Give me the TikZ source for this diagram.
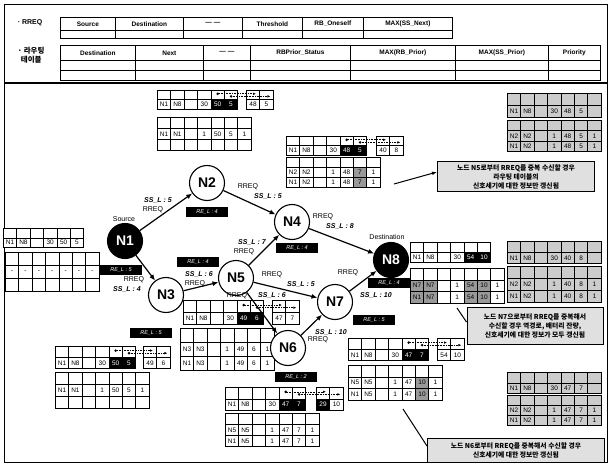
\documentclass[tikz,border=0pt]{standalone}
\usepackage{fontspec}
\setmainfont{Liberation Sans}
\newfontfamily\krfont{Noto Sans CJK KR}
\usetikzlibrary{arrows.meta}

\newcommand{\cellrow}[5]{%
  \foreach \cst/\ctx [count=\ci] in {#5}
    \node[cell, \cst, minimum height=#4] (#1-\ci) at ({#2+(\ci-1)*13.4}, #3) {\ctx};
}
\newcommand{\blankrow}[6][wht]{%
  \foreach \ci in {1,...,#6}
    \node[cell, #1, minimum height=#5] (#2-\ci) at ({#3+(\ci-1)*13.4}, #4) {};
}
\newcommand{\dotlinks}[2]{%
  \fill ([yshift=1.3pt]#1-5.center) circle (1.4);
  \fill ([yshift=-1.3pt]#1-6.center) circle (1.4);
  \draw[ptr] ([yshift=1.3pt]#1-5.center) -- ([xshift=3pt,yshift=1.3pt]#2-1.center);
  \draw[ptr] ([yshift=-1.3pt]#1-6.center) -- ([xshift=4pt,yshift=-1.3pt]#2-2.center);
}

\begin{document}
\begin{tikzpicture}[x=1pt, y=-1pt,
    cell/.style={draw, line width=0.7pt, anchor=north west, minimum width=13.4, inner sep=0pt, font=\fontsize{6.5}{7}\selectfont},
    wht/.style={fill=white},
    blk/.style={fill=black, text=white},
    shd/.style={fill=black!40},
    dot/.style={fill=black!20},
    hcell/.style={draw, line width=0.7pt, anchor=north west, inner sep=0pt, font=\fontsize{6.5}{7}\selectfont\bfseries},
    nd/.style={circle, draw, line width=1.1pt, fill=white, minimum size=35, inner sep=0pt, font=\fontsize{14}{14}\selectfont\bfseries},
    ndk/.style={nd, fill=black, text=white},
    link/.style={line width=1.2pt, -{Latex[length=6pt, width=5pt]}},
    ptr/.style={densely dotted, line width=0.6pt, -{Latex[length=3pt, width=2.5pt]}},
    rq/.style={font=\fontsize{7}{7}\selectfont, inner sep=0.5pt},
    ssl/.style={font=\fontsize{7}{7}\selectfont\bfseries\itshape, inner sep=0.5pt},
    relbox/.style={fill=black, text=white, minimum width=42, minimum height=10, inner sep=0pt, font=\fontsize{5.5}{6}\selectfont\itshape},
    note/.style={draw, line width=1pt, fill=black!12, align=center, inner sep=2pt, font=\krfont\bfseries\fontsize{6.8}{9}\selectfont}
]
    \useasboundingbox (0,0) rectangle (610,465);
    \draw[line width=0.6pt] (4,4) rectangle (607,462);
    \draw[line width=1.2pt] (4,83) -- (607,83);

    % header
    \node[font=\fontsize{7}{7}\selectfont\bfseries] (lrreq) at (30,23) {· RREQ};
    \node[font=\krfont\bfseries\fontsize{7.5}{8.5}\selectfont, align=left] (lrt) at (31,55) {· 라우팅\\\ \ 테이블};
    \foreach \xa/\xb/\ct [count=\ci] in {60/115/Source, 115/183/Destination, 183/242/--- ---, 242/302/Threshold, 302/363/RB\_Oneself, 363/452/MAX(SS\_Next)} {
        \node[hcell, minimum width=\xb-\xa, minimum height=13] (hq-\ci) at (\xa,17) {\ct};
        \node[hcell, minimum width=\xb-\xa, minimum height=8.5] (hv-\ci) at (\xa,30) {};
    }
    \foreach \xa/\xb/\ct [count=\ci] in {60/135/Destination, 135/203/Next, 203/250/--- ---, 250/350/RBPrior\_Status, 350/455/MAX(RB\_Prior), 455/548/MAX(SS\_Prior), 548/600/Priority} {
        \node[hcell, minimum width=\xb-\xa, minimum height=15] (ht-\ci) at (\xa,45) {\ct};
        \node[hcell, minimum width=\xb-\xa, minimum height=10] (hu-\ci) at (\xa,60) {};
        \node[hcell, minimum width=\xb-\xa, minimum height=10] (hw-\ci) at (\xa,70) {};
    }

    % tables
    \blankrow{aq1}{157}{90}{9.5}{6}
    \cellrow{aq2}{157}{99.5}{9.5}{wht/N1, wht/N8, wht/{}, wht/30, blk/50, blk/5}
    \blankrow{as1}{246}{90}{9.5}{2}
    \cellrow{as2}{246}{99.5}{9.5}{wht/48, wht/5}
    \dotlinks{aq1}{as1}
    \blankrow{ar1}{157}{117}{11}{7}
    \cellrow{ar2}{157}{128}{11}{wht/N1, wht/N1, wht/{}, wht/1, wht/50, wht/5, wht/1}
    \blankrow{ar3}{157}{139}{11}{7}

    \blankrow{bq1}{286}{136}{9.5}{6}
    \cellrow{bq2}{286}{145.5}{9.5}{wht/N1, wht/N8, wht/{}, wht/30, blk/48, blk/5}
    \blankrow{bs1}{376}{136}{9.5}{2}
    \cellrow{bs2}{376}{145.5}{9.5}{wht/40, wht/8}
    \dotlinks{bq1}{bs1}
    \blankrow{br1}{286}{157}{10}{7}
    \cellrow{br2}{286}{167}{10}{wht/N2, wht/N2, wht/{}, wht/1, wht/48, shd/7, wht/1}
    \cellrow{br3}{286}{177}{10}{wht/N1, wht/N2, wht/{}, wht/1, wht/48, shd/7, wht/1}

    \blankrow[dot]{cq1}{507}{93}{12}{7}
    \cellrow{cq2}{507}{105}{12}{dot/N1, dot/N8, dot/{}, dot/30, dot/48, dot/5, dot/{}}
    \blankrow[dot]{cr1}{507}{120}{10.5}{7}
    \cellrow{cr2}{507}{130.5}{10.5}{dot/N2, dot/N2, dot/{}, dot/1, dot/48, dot/5, dot/1}
    \cellrow{cr3}{507}{141}{10.5}{dot/N1, dot/N2, dot/{}, dot/1, dot/48, dot/5, dot/1}

    \blankrow{dq1}{3}{228}{9.5}{6}
    \cellrow{dq2}{3}{237.5}{9.5}{wht/N1, wht/N8, wht/{}, wht/30, wht/50, wht/5}
    \blankrow{dr1}{5}{252}{13}{7}
    \cellrow{dr2}{5}{265}{13}{wht/-, wht/-, wht/-, wht/-, wht/-, wht/-, wht/-}
    \blankrow{dr3}{5}{278}{13}{7}

    \blankrow{eq1}{55}{346}{11}{6}
    \cellrow{eq2}{55}{357}{11}{wht/N1, wht/N8, wht/{}, wht/30, blk/50, blk/5}
    \blankrow{es1}{143}{346}{11}{2}
    \cellrow{es2}{143}{357}{11}{wht/49, wht/6}
    \dotlinks{eq1}{es1}
    \blankrow{er1}{55}{372}{12}{7}
    \cellrow{er2}{55}{384}{12}{wht/N1, wht/N1, wht/{}, wht/1, wht/50, wht/5, wht/1}
    \blankrow{er3}{55}{396}{12}{7}

    \blankrow{fq1}{183}{300}{12}{6}
    \cellrow{fq2}{183}{312}{12}{wht/N1, wht/N8, wht/{}, wht/30, blk/49, blk/6}
    \blankrow{fs1}{272}{300}{12}{2}
    \cellrow{fs2}{272}{312}{12}{wht/47, wht/7}
    \dotlinks{fq1}{fs1}
    \blankrow{fr1}{180}{328}{14}{7}
    \cellrow{fr2}{180}{342}{14}{wht/N3, wht/N3, wht/{}, wht/1, wht/49, wht/6, wht/1}
    \cellrow{fr3}{180}{356}{14}{wht/N1, wht/N3, wht/{}, wht/1, wht/49, wht/6, wht/1}

    \blankrow{gq1}{225}{387}{11.5}{6}
    \cellrow{gq2}{225}{398.5}{11.5}{wht/N1, wht/N8, wht/{}, wht/30, blk/47, blk/7}
    \blankrow{gs1}{316}{387}{11.5}{2}
    \cellrow{gs2}{316}{398.5}{11.5}{blk/29, wht/10}
    \dotlinks{gq1}{gs1}
    \blankrow{gr1}{225}{413}{11}{7}
    \cellrow{gr2}{225}{424}{11}{wht/N5, wht/N5, wht/{}, wht/1, wht/47, wht/7, wht/1}
    \cellrow{gr3}{225}{435}{11}{wht/N1, wht/N5, wht/{}, wht/1, wht/47, wht/7, wht/1}

    \blankrow{hq1}{348}{338}{11}{6}
    \cellrow{hq2}{348}{349}{11}{wht/N1, wht/N8, wht/{}, wht/30, blk/47, blk/7}
    \blankrow{hs1}{437}{338}{11}{2}
    \cellrow{hs2}{437}{349}{11}{wht/54, wht/10}
    \dotlinks{hq1}{hs1}
    \blankrow{hr1}{348}{365}{11.5}{7}
    \cellrow{hr2}{348}{376.5}{11.5}{wht/N5, wht/N5, wht/{}, wht/1, wht/47, shd/10, wht/1}
    \cellrow{hr3}{348}{388}{11.5}{wht/N1, wht/N5, wht/{}, wht/1, wht/47, shd/10, wht/1}

    \blankrow{iq1}{410}{242}{10}{6}
    \cellrow{iq2}{410}{252}{10}{wht/N1, wht/N8, wht/{}, wht/30, blk/54, blk/10}
    \blankrow{ir1}{410}{268}{11.5}{7}
    \cellrow{ir2}{410}{279.5}{11.5}{shd/N7, shd/N7, wht/{}, wht/1, shd/54, shd/10, wht/1}
    \cellrow{ir3}{410}{291}{11.5}{shd/N1, shd/N7, wht/{}, wht/1, shd/54, shd/10, wht/1}

    \blankrow[dot]{jq1}{507}{241}{11}{7}
    \cellrow{jq2}{507}{252}{11}{dot/N1, dot/N8, dot/{}, dot/30, dot/40, dot/8, dot/{}}
    \blankrow[dot]{jr1}{507}{266}{12}{7}
    \cellrow{jr2}{507}{278}{12}{dot/N2, dot/N2, dot/{}, dot/1, dot/40, dot/8, dot/1}
    \cellrow{jr3}{507}{290}{12}{dot/N1, dot/N2, dot/{}, dot/1, dot/40, dot/8, dot/1}

    \blankrow[dot]{kq1}{507}{372}{10.5}{7}
    \cellrow{kq2}{507}{382.5}{10.5}{dot/N1, dot/N8, dot/{}, dot/30, dot/47, dot/7, dot/{}}
    \blankrow[dot]{kr1}{507}{395}{10}{7}
    \cellrow{kr2}{507}{405}{10}{dot/N2, dot/N2, dot/{}, dot/1, dot/47, dot/7, dot/1}
    \cellrow{kr3}{507}{415}{10}{dot/N1, dot/N2, dot/{}, dot/1, dot/47, dot/7, dot/1}

    % notes
    \node[note, minimum width=157, minimum height=30] (note1) at (516,177) {노드 N5로부터 RREQ를 중복 수신할 경우\\라우팅 테이블의\\신호세기에 대한 정보만 갱신됨};
    \node[note, minimum width=136, minimum height=37] (note2) at (535,326) {노드 N7으로부터 RREQ를 중복해서\\수신할 경우 역경로, 배터리 잔량,\\신호세기에 대한 정보가 모두 갱신됨};
    \node[note, minimum width=177, minimum height=24] (note3) at (516,450) {노드 N6로부터 RREQ를 중복해서 수신할 경우\\신호세기에 대한 정보만 갱신됨};
    \coordinate (c1) at (394,184);
    \coordinate (c2) at (457,308);
    \coordinate (c3) at (403,409);
    \draw[line width=1pt, -{Latex[length=5pt]}] (c1) -- ([yshift=5pt]note1.west);
    \draw[line width=1pt] (c2) -- ([yshift=4pt]note2.west);
    \draw[line width=1pt] (c3) -- ([yshift=4pt]note3.west);

    % network
    \node[ndk] (N1) at (125,241) {N1};
    \node[nd] (N2) at (207,183) {N2};
    \node[nd] (N3) at (166,295) {N3};
    \node[nd] (N4) at (292,222) {N4};
    \node[nd] (N5) at (236,278) {N5};
    \node[nd] (N6) at (288,348) {N6};
    \node[nd] (N7) at (335,302) {N7};
    \node[ndk] (N8) at (391,260) {N8};

    \draw[link] (N1) -- (N2);
    \draw[link] (N2) -- (N4);
    \draw[link] (N4) -- (N8);
    \draw[link] (N1) -- (N3);
    \draw[link] (N3) -- (N5);
    \draw[link] (N5) -- (N4);
    \draw[link] (N5) -- (N7);
    \draw[link] (N5) -- (N6);
    \draw[link] (N6) -- (N7);
    \draw[link] (N7) -- (N8);

    \node[rq] (src) at (124,219) {Source};
    \node[rq] (dst) at (387,237) {Destination};

    \node[ssl] (s12) at (158,200) {SS\_L : 5};
    \node[rq] (r12) at (153,210) {RREQ};
    \node[rq] (r24) at (248,187) {RREQ};
    \node[ssl] (s24) at (268,196) {SS\_L : 5};
    \node[rq] (r48) at (323,217) {RREQ};
    \node[ssl] (s48) at (340,226) {SS\_L : 8};
    \node[rq] (r13) at (134,280) {RREQ};
    \node[ssl] (s13) at (127,289) {SS\_L : 4};
    \node[ssl] (s35) at (199,274) {SS\_L : 6};
    \node[rq] (r35) at (195,284) {RREQ};
    \node[ssl] (s54) at (252,242) {SS\_L : 7};
    \node[rq] (r54) at (244,252) {RREQ};
    \node[rq] (r57) at (272,275) {RREQ};
    \node[ssl] (s57) at (301,284) {SS\_L : 5};
    \node[rq] (r56) at (237,296) {RREQ};
    \node[ssl] (s56) at (272,295) {SS\_L : 6};
    \node[ssl] (s67) at (331,332) {SS\_L : 10};
    \node[rq] (r67) at (318,340) {RREQ};
    \node[rq] (r78) at (348,273) {RREQ};
    \node[ssl] (s78) at (376,295) {SS\_L : 10};

    \node[relbox] (re1) at (121,270) {RE\_L : 5};
    \node[relbox] (re2) at (207,212) {RE\_L : 4};
    \node[relbox] (re3) at (151,333) {RE\_L : 5};
    \node[relbox] (re4) at (297,248) {RE\_L : 4};
    \node[relbox] (re5) at (198,262) {RE\_L : 4};
    \node[relbox] (re6) at (296,377) {RE\_L : 2};
    \node[relbox] (re7) at (374,320) {RE\_L : 5};
    \node[relbox] (re8) at (389,283) {RE\_L : 4};
\end{tikzpicture}
\end{document}
